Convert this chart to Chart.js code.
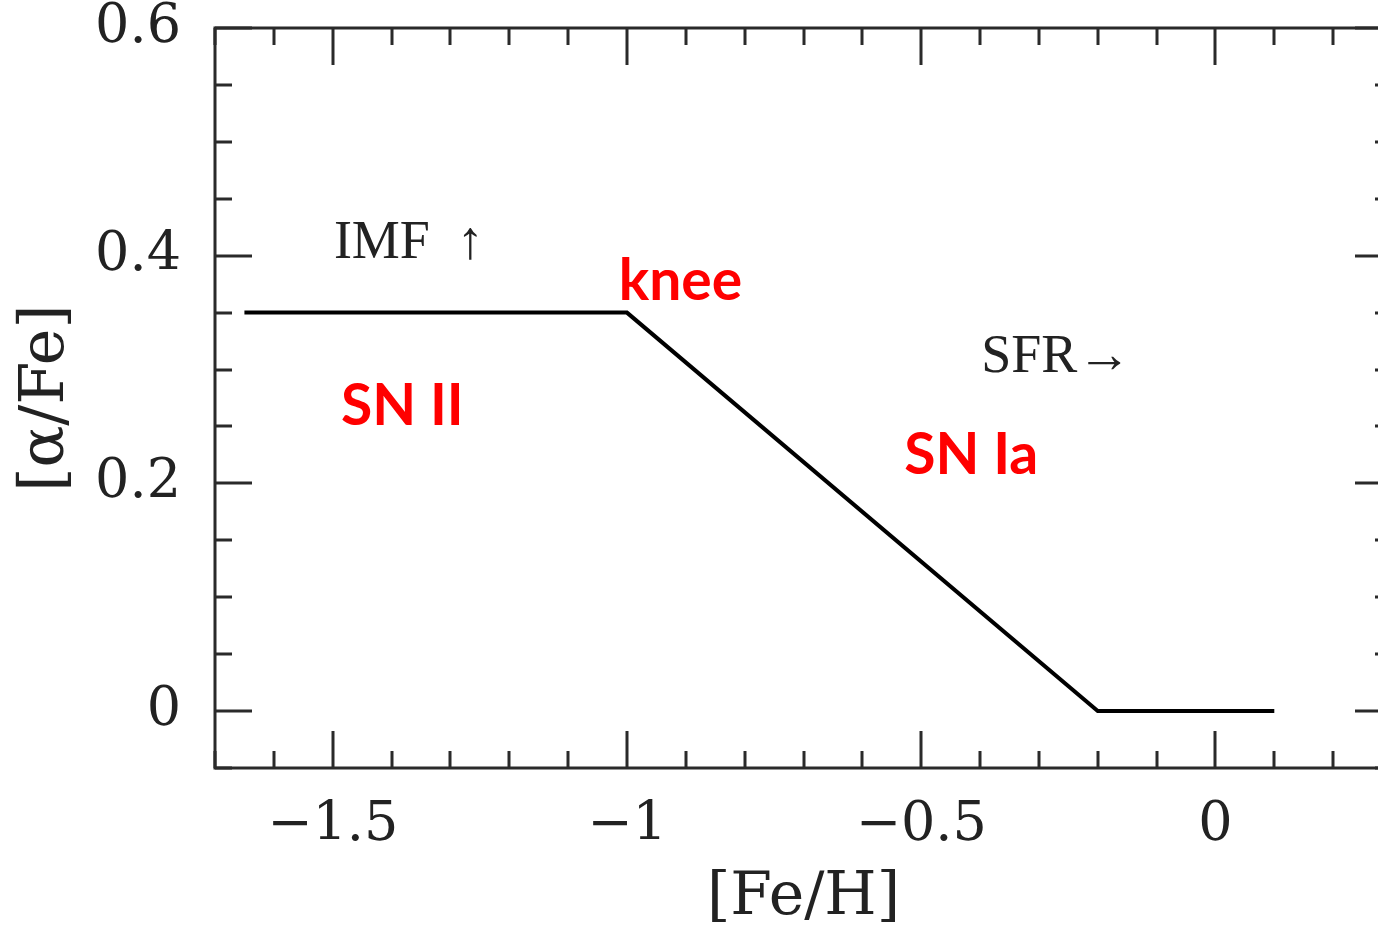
<!DOCTYPE html>
<html>
<head>
<meta charset="utf-8">
<title>[α/Fe] vs [Fe/H]</title>
<script src="https://cdn.jsdelivr.net/npm/chart.js@4/dist/chart.umd.min.js"></script>
<style>
  html, body { margin: 0; padding: 0; background: #fff; overflow: hidden; }
  #wrap { width: 1378px; height: 926px; overflow: hidden; }
  canvas { display: block; }
</style>
</head>
<body>
<div id="wrap"><canvas id="alphaChart" width="1400" height="926"></canvas></div>
<script>
// corners of the [alpha/Fe] track
const feH = [-1.65, -1.0, -0.2, 0.1];
const alphaFe = [0.35, 0.35, 0.0, 0.0];

// labelled ticks
const xTicks = [-1.5, -1.0, -0.5, 0];
const yTicks = [0, 0.2, 0.4, 0.6];

// axis ranges and tick steps
const xRange = [-1.7, 0.3];
const yRange = [-0.05, 0.6];
const xMinor = 0.1, xMajor = 0.5;
const yMinor = 0.05, yMajor = 0.2;

// text placed on the plot, in data units (left edge, baseline)
const notes = [
    { text: 'IMF  ↑', x: -1.498, y: 0.398, font: '54px "Liberation Serif"', color: '#222' },
    { text: 'SFR→', x: -0.398, y: 0.298, font: '54px "Liberation Serif"', color: '#222' },
    { text: 'knee', x: -1.014, y: 0.361, font: 'bold 57px Lato', color: '#ff0000' },
    { text: 'SN II', x: -1.486, y: 0.251, font: 'bold 57px Lato', color: '#ff0000' },
    { text: 'SN Ia', x: -0.529, y: 0.208, font: 'bold 57px Lato', color: '#ff0000' }
];

function fmt(v) {
    return v < 0 ? '\u2212' + String(Math.abs(v)) : String(v);
}

function isMajor(v, step) {
    const r = v / step;
    return Math.abs(r - Math.round(r)) < 1e-6;
}

// box around the plot with inward ticks on all four sides
const framePlugin = {
    id: 'frame',
    afterDatasetsDraw(chart) {
        const { ctx, chartArea: a, scales: { x, y } } = chart;
        const minorLen = 17, majorLen = 37;
        ctx.save();
        ctx.strokeStyle = '#2a2a2a';
        ctx.lineWidth = 3;
        ctx.strokeRect(a.left, a.top, a.right - a.left, a.bottom - a.top);
        ctx.beginPath();
        const nx = Math.round((xRange[1] - xRange[0]) / xMinor);
        for (let i = 0; i <= nx; i++) {
            const v = xRange[0] + i * xMinor;
            const px = Math.round(x.getPixelForValue(v));
            const len = isMajor(v, xMajor) ? majorLen : minorLen;
            ctx.moveTo(px, a.bottom); ctx.lineTo(px, a.bottom - len);
            ctx.moveTo(px, a.top); ctx.lineTo(px, a.top + len);
        }
        const ny = Math.round((yRange[1] - yRange[0]) / yMinor);
        for (let i = 0; i <= ny; i++) {
            const v = yRange[0] + i * yMinor;
            const py = Math.round(y.getPixelForValue(v));
            const len = isMajor(v, yMajor) ? majorLen : minorLen;
            ctx.moveTo(a.left, py); ctx.lineTo(a.left + len, py);
            ctx.moveTo(a.right, py); ctx.lineTo(a.right - len, py);
        }
        ctx.stroke();

        ctx.textAlign = 'left';
        ctx.textBaseline = 'alphabetic';
        notes.forEach(n => {
            ctx.font = n.font;
            ctx.fillStyle = n.color;
            ctx.fillText(n.text, x.getPixelForValue(n.x), y.getPixelForValue(n.y));
        });
        ctx.restore();
    }
};

const ctx = document.getElementById('alphaChart').getContext('2d');
new Chart(ctx, {
    type: 'scatter',
    data: {
        datasets: [{
            data: feH.map((v, i) => ({ x: v, y: alphaFe[i] })),
            showLine: true,
            borderColor: '#000',
            borderWidth: 4,
            pointRadius: 0,
            tension: 0
        }]
    },
    options: {
        responsive: false,
        animation: false,
        devicePixelRatio: 1,
        layout: { padding: { top: 28, right: 8, left: 0, bottom: 0 } },
        plugins: { legend: { display: false }, tooltip: { enabled: false } },
        scales: {
            x: {
                type: 'linear',
                min: xRange[0],
                max: xRange[1],
                grid: { display: false },
                border: { display: false },
                afterBuildTicks: s => { s.ticks = xTicks.map(v => ({ value: v })); },
                afterFit: s => { s.height = 158; s.paddingLeft = 0; s.paddingRight = 0; },
                ticks: {
                    autoSkip: false,
                    maxRotation: 0,
                    padding: 18,
                    color: '#222',
                    font: { family: 'DejaVu Serif', size: 54 },
                    callback: v => fmt(v)
                },
                title: {
                    display: true,
                    text: '[Fe/H]',
                    color: '#222',
                    font: { family: 'DejaVu Serif', size: 60 },
                    padding: { top: 0, bottom: -8 }
                }
            },
            y: {
                type: 'linear',
                min: yRange[0],
                max: yRange[1],
                grid: { display: false },
                border: { display: false },
                afterBuildTicks: s => { s.ticks = yTicks.map(v => ({ value: v })); },
                afterFit: s => { s.width = 215; s.paddingTop = 0; s.paddingBottom = 0; },
                ticks: {
                    autoSkip: false,
                    padding: 26,
                    color: '#222',
                    font: { family: 'DejaVu Serif', size: 54 },
                    callback: v => fmt(v)
                },
                title: {
                    display: true,
                    text: '[α/Fe]',
                    color: '#222',
                    font: { family: 'DejaVu Serif', size: 62 },
                    padding: { top: 10, bottom: 0 }
                }
            }
        }
    },
    plugins: [framePlugin]
});
</script>
</body>
</html>
